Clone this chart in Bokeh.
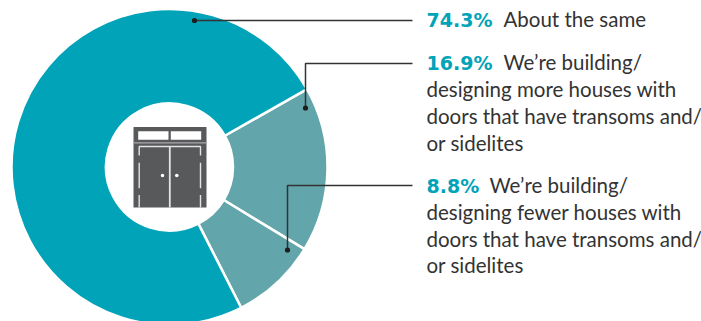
from math import pi
from bokeh.plotting import figure
from bokeh.models import Range1d
from bokeh.core.properties import value
from bokeh.embed import file_html
from bokeh.resources import INLINE

# Survey shares, in drawing order clockwise from the top-right boundary
labels = ["We're building more", "We're building fewer", "About the same"]
shares = [16.9, 8.8, 74.3]
colors = ["#62a5aa", "#62a5aa", "#00a3b8"]

W, H = 701, 321
CX, CY = 169, 166.5
R_OUT, R_IN = 158, 63.5
FIRST_EDGE = 60.5  # degrees clockwise from twelve o'clock

p = figure(width=W, height=H, output_backend="svg", toolbar_location=None,
           x_range=Range1d(0, W), y_range=Range1d(H, 0), min_border=0,
           outline_line_color=None, background_fill_color="white")
p.axis.visible = False
p.grid.visible = False

# With a reversed y range, screen angles run clockwise from +x
total = sum(shares)
edge = FIRST_EDGE - 90
for share, col in zip(shares, colors):
    sweep = share / total * 360
    p.annular_wedge(x=[CX], y=[CY], inner_radius=R_IN, outer_radius=R_OUT,
                    start_angle=[-(edge) * pi / 180], end_angle=[-(edge + sweep) * pi / 180],
                    direction="clock", fill_color=col, line_color="white", line_width=2.5)
    edge += sweep

# White hub behind the door icon
p.circle(x=[CX], y=[CY], radius=R_IN, fill_color="white", line_color=None)

# Double door with transom
DOOR = "#58595b"
LIGHT = "#e4e4e4"
p.quad(left=[133], right=[206], top=[126.5], bottom=[207], fill_color=DOOR, line_color=None)
p.quad(left=[137.7, 170.3], right=[168, 200.7], top=[130.7, 130.7], bottom=[139.3, 139.3],
       fill_color="white", line_color=None)
p.line([133, 206], [142.3, 142.3], line_color="#a8a9aa", line_width=1.2)
p.multi_line(
    xs=[[138.7, 138.7, 200, 200], [138.7, 138.7], [138.7, 138.7], [200, 200], [200, 200]],
    ys=[[155, 146, 146, 155], [162.3, 187.7], [194.5, 207], [162.3, 187.7], [194.5, 207]],
    line_color=LIGHT, line_width=1.4)
p.line([169.3, 169.3], [146, 207], line_color=LIGHT, line_width=1.8)
p.circle(x=[162, 176.3], y=[175, 175], radius=1.8, fill_color="white", line_color=None)

# Leader lines from each slice to its caption
LEADER = "#333333"
p.multi_line(xs=[[194, 412], [305, 305, 412], [287, 287, 412]],
             ys=[[20, 20], [107.5, 63, 63], [249.5, 185, 185]],
             line_color=LEADER, line_width=1.5)
p.circle(x=[194, 305, 287], y=[20, 107.5, 249.5], radius=2.6, fill_color="#1d1d1b", line_color=None)

# Captions
pct_labels = ["74.3%", "16.9%", "8.8%"]
pct_y = [19.5, 62.5, 185]
first_lines = ["About the same", "We\u2019re building/", "We\u2019re building/"]
first_x = [503, 503, 489]
text_y = [18.8, 61.8, 184.8]
more_lines = ["designing more houses with", "doors that have transoms and/", "or sidelites",
              "designing fewer houses with", "doors that have transoms and/", "or sidelites"]
more_y = [88.5, 115.2, 142, 211.5, 238.5, 264.5]

p.text(x=[426] * 3, y=pct_y, text=pct_labels, text_font=value("DejaVu Sans"),
       text_font_style="bold", text_font_size="19px", text_color="#00a3b8",
       text_baseline="middle", text_align="left")
p.text(x=first_x, y=text_y, text=first_lines, text_font=value("Lato"),
       text_font_size="20.5px", text_color="#333333", text_baseline="middle", text_align="left")
p.text(x=[426] * 6, y=more_y, text=more_lines, text_font=value("Lato"),
       text_font_size="20.5px", text_color="#333333", text_baseline="middle", text_align="left")

open("out.html", "w").write(file_html(p, INLINE))
